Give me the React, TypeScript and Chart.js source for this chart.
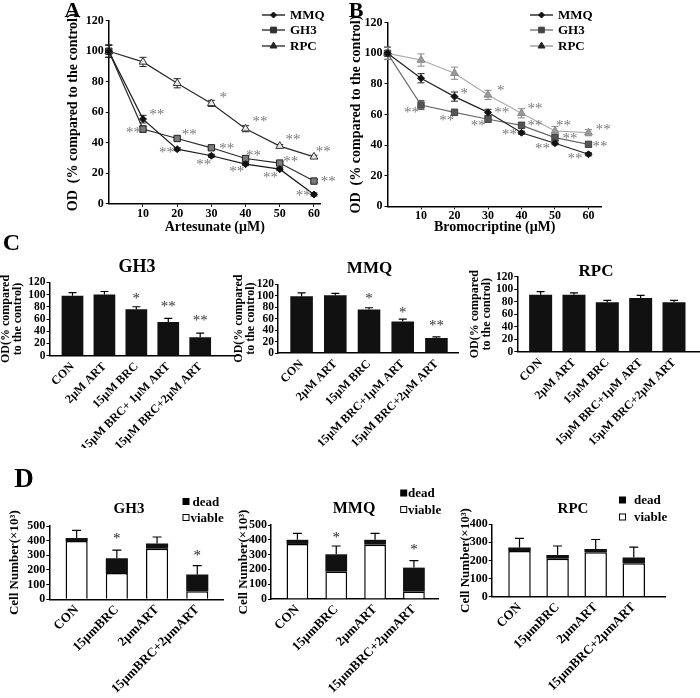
import React, { useEffect, useRef } from 'react';
import { Chart, registerables } from 'chart.js';
import { drawPoint } from 'chart.js/helpers';

Chart.register(...registerables);

const SERIF = "'Liberation Serif', 'Times New Roman', serif";

// ---------------- Panels A & B : dose response ----------------
const DOSES = [0, 10, 20, 30, 40, 50, 60];
const DOSE_TICKS = [10, 20, 30, 40, 50, 60];
const OD_TICKS = [0, 20, 40, 60, 80, 100, 120];

const A_MMQ = [100, 55.5, 35.8, 31.5, 26, 22.7, 6.1];
const A_MMQ_ERR = [4, 2.5, 1, 1, 1, 1, 1];
const A_GH3 = [100, 49, 42.8, 36.7, 29.7, 26.7, 14.9];
const A_GH3_ERR = [4, 2, 1, 1, 1, 1, 1];
const A_RPC = [100, 93, 79, 65.8, 49.2, 37.8, 30.8];
const A_RPC_ERR = [4, 3, 3, 2, 2, 1, 1];

const B_MMQ = [100, 83.7, 71.7, 61.4, 48.1, 41.2, 34];
const B_MMQ_ERR = [4, 3, 3, 2, 1, 1, 1];
const B_GH3 = [100, 66.2, 61.4, 56.9, 52.9, 44.9, 40.5];
const B_GH3_ERR = [4, 3, 2, 2, 2, 2, 1];
const B_RPC = [100, 95.6, 87, 72.8, 60.8, 49.2, 48.1];
const B_RPC_ERR = [4, 4, 4, 3, 3, 3, 2];

type Star = { x: number; y: number; t: string };

const A_STARS: Star[] = [
  { x: 14.0, y: 60.3, t: '**' }, { x: 7.2, y: 48.3, t: '**' }, { x: 23.5, y: 46.6, t: '**' },
  { x: 16.9, y: 34.8, t: '**' }, { x: 33.5, y: 71.3, t: '*' }, { x: 34.5, y: 38, t: '**' },
  { x: 27.8, y: 27.5, t: '**' }, { x: 44.2, y: 55.5, t: '**' }, { x: 42.3, y: 33.4, t: '**' },
  { x: 37.4, y: 22.5, t: '**' }, { x: 53.9, y: 43.5, t: '**' }, { x: 53.2, y: 29, t: '**' },
  { x: 47.3, y: 18.8, t: '**' }, { x: 62.7, y: 35.8, t: '**' }, { x: 64.2, y: 16.2, t: '**' },
  { x: 56.9, y: 6.8, t: '**' },
];
const B_STARS: Star[] = [
  { x: 22.9, y: 75.5, t: '*' }, { x: 33.8, y: 77.1, t: '*' }, { x: 7.2, y: 62.9, t: '**' },
  { x: 17.7, y: 57.5, t: '**' }, { x: 27.1, y: 54.6, t: '**' }, { x: 34.1, y: 62.9, t: '**' },
  { x: 44, y: 65.5, t: '**' }, { x: 36.4, y: 48.1, t: '**' }, { x: 44, y: 54.6, t: '**' },
  { x: 52.5, y: 54.6, t: '**' }, { x: 46.3, y: 39, t: '**' }, { x: 54.5, y: 45.9, t: '**' },
  { x: 56, y: 32.4, t: '**' }, { x: 64.4, y: 51.4, t: '**' }, { x: 63.4, y: 40.5, t: '**' },
];

// ---------------- Panel C : OD bars ----------------
const C_TICKS = [0, 20, 40, 60, 80, 100, 120];
const C_LABELS_GH3 = ['CON', '2µM ART', '15µM BRC', '15µM BRC+ 1µM ART', '15µM BRC+2µM ART'];
const C_LABELS = ['CON', '2µM ART', '15µM BRC', '15µM BRC+1µM ART', '15µM BRC+2µM ART'];
const C_GH3 = [98, 100, 76, 55, 30];
const C_GH3_ERR = [5, 5, 4, 6, 7];
const C_MMQ = [99, 101, 76, 55, 26];
const C_MMQ_ERR = [6, 3, 3, 4, 2];
const C_RPC = [91, 91, 79, 86, 79];
const C_RPC_ERR = [5, 3, 3, 4, 3];
const C_GH3_STARS: Star[] = [{ x: 2, y: 98, t: '*' }, { x: 3, y: 84.5, t: '**' }, { x: 4, y: 62, t: '**' }];
const C_MMQ_STARS: Star[] = [{ x: 2, y: 100, t: '*' }, { x: 3, y: 75, t: '*' }, { x: 4, y: 52, t: '**' }];

// ---------------- Panel D : cell numbers ----------------
const D_LABELS = ['CON', '15µmBRC', '2µmART', '15µmBRC+2µmART'];
const D_TICKS_500 = [0, 100, 200, 300, 400, 500];
const D_TICKS_400 = [0, 100, 200, 300, 400];
const D_GH3_VIABLE = [398, 180, 345, 55];
const D_GH3_DEAD = [20, 100, 35, 115];
const D_GH3_ERR = [52, 55, 45, 60];
const D_MMQ_VIABLE = [372, 185, 367, 50];
const D_MMQ_DEAD = [28, 117, 33, 162];
const D_MMQ_ERR = [44, 56, 44, 47];
const D_RPC_VIABLE = [252, 210, 246, 185];
const D_RPC_DEAD = [20, 20, 18, 32];
const D_RPC_ERR = [50, 50, 52, 57];
const D_GH3_STARS: Star[] = [{ x: 1, y: 427, t: '*' }, { x: 3, y: 314, t: '*' }];
const D_MMQ_STARS: Star[] = [{ x: 1, y: 432, t: '*' }, { x: 3, y: 353, t: '*' }];

// ---------------- helpers ----------------
type Box = { L: number; T: number; W: number; H: number };
type Area = { x0: number; y0: number; x1: number; y1: number };
type ErrSpec = { xs: number[]; base: number[]; err: number[]; both: boolean; cap: number; color: string; width: number };

const fnt = (size: number, weight = 'bold', lineHeight = 1.2) => ({ family: SERIF, size, weight, lineHeight });

function frameOf(box: Box, area: Area, titleCx: number, titleLh: number) {
  const PL = Math.max(0, titleCx - box.L - titleLh / 2);
  return {
    padding: { left: PL, top: area.y0 - box.T, right: box.L + box.W - area.x1, bottom: 0 },
    yWidth: area.x0 - box.L - PL,
    xHeight: box.T + box.H - area.y1,
  };
}

function makeExtras(o: {
  errs: ErrSpec[];
  errAfter: boolean;
  stars: Star[];
  starSize: number;
  starColor: string;
  deco?: (ctx: CanvasRenderingContext2D) => void;
}) {
  const drawErrs = (chart: any) => {
    const { ctx, scales } = chart;
    const x = scales.x, y = scales.y;
    ctx.save();
    for (const e of o.errs) {
      ctx.strokeStyle = e.color;
      ctx.lineWidth = e.width;
      e.xs.forEach((xv, i) => {
        const px = x.getPixelForValue(xv);
        const top = y.getPixelForValue(e.base[i] + e.err[i]);
        const bot = y.getPixelForValue(e.both ? e.base[i] - e.err[i] : e.base[i]);
        ctx.beginPath();
        ctx.moveTo(px, bot);
        ctx.lineTo(px, top);
        ctx.moveTo(px - e.cap / 2, top);
        ctx.lineTo(px + e.cap / 2, top);
        if (e.both) {
          ctx.moveTo(px - e.cap / 2, bot);
          ctx.lineTo(px + e.cap / 2, bot);
        }
        ctx.stroke();
      });
    }
    ctx.restore();
  };
  return {
    id: 'extras',
    beforeDatasetsDraw(chart: any) {
      if (!o.errAfter) drawErrs(chart);
    },
    afterDatasetsDraw(chart: any) {
      if (o.errAfter) drawErrs(chart);
    },
    afterDraw(chart: any) {
      const { ctx, scales } = chart;
      ctx.save();
      ctx.font = `${o.starSize}px ${SERIF}`;
      ctx.fillStyle = o.starColor;
      ctx.textAlign = 'center';
      ctx.textBaseline = 'alphabetic';
      for (const s of o.stars) {
        ctx.fillText(s.t, scales.x.getPixelForValue(s.x), scales.y.getPixelForValue(s.y) + 0.45 * o.starSize);
      }
      ctx.restore();
      if (o.deco) {
        ctx.save();
        o.deco(ctx);
        ctx.restore();
      }
    },
  };
}

type Series = {
  label: string; data: number[]; err: number[]; line: string; style: string; radius: number;
  bg: string; border: string; errColor: string; legBg: string; legBorder: string; legLine: string;
};

function lineConfig(p: {
  box: Box; area: Area; xMax: number; xTitle: string; yTitle: string; titleCx: number;
  series: Series[]; stars: Star[]; starColor: string;
  legend: { x0: number; x1: number; tx: number; ys: number[] };
}) {
  const f = frameOf(p.box, p.area, p.titleCx, 14 * 1.2);
  const deco = (ctx: CanvasRenderingContext2D) => {
    p.series.forEach((s, i) => {
      const y = p.legend.ys[i] - p.box.T;
      const x0 = p.legend.x0 - p.box.L;
      const x1 = p.legend.x1 - p.box.L;
      ctx.strokeStyle = s.legLine;
      ctx.lineWidth = 1.4;
      ctx.beginPath();
      ctx.moveTo(x0, y);
      ctx.lineTo(x1, y);
      ctx.stroke();
      ctx.fillStyle = s.legBg;
      ctx.strokeStyle = s.legBorder;
      ctx.lineWidth = 1;
      drawPoint(ctx, { pointStyle: s.style as any, radius: s.radius - 0.5, borderWidth: 1, rotation: 0 } as any, (x0 + x1) / 2, y);
      ctx.fillStyle = '#000';
      ctx.font = `bold 13px ${SERIF}`;
      ctx.textAlign = 'left';
      ctx.textBaseline = 'middle';
      ctx.fillText(s.label, p.legend.tx - p.box.L, y + 1);
    });
  };
  const axisCommon = {
    grid: { display: true, drawOnChartArea: false, drawTicks: true, tickLength: 3, color: '#000', lineWidth: 1 },
    border: { display: true, color: '#000', width: 1.5 },
  };
  return {
    type: 'line',
    data: {
      datasets: p.series.map((s) => ({
        label: s.label,
        data: DOSES.map((d, i) => ({ x: d, y: s.data[i] })),
        borderColor: s.line,
        borderWidth: 1.2,
        tension: 0,
        clip: false,
        pointStyle: s.style,
        pointRadius: s.radius,
        pointBackgroundColor: s.bg,
        pointBorderColor: s.border,
        pointBorderWidth: 1,
      })),
    },
    options: {
      responsive: false,
      animation: false,
      devicePixelRatio: 1,
      events: [],
      layout: { padding: f.padding },
      plugins: { legend: { display: false }, tooltip: { enabled: false }, title: { display: false } },
      scales: {
        x: {
          type: 'linear', min: 0, max: p.xMax,
          afterBuildTicks: (s: any) => { s.ticks = DOSE_TICKS.map((v) => ({ value: v })); },
          afterFit: (s: any) => { s.height = f.xHeight; },
          ticks: { font: fnt(12, 'bold', 1), color: '#000', padding: 1, maxRotation: 0, autoSkip: false },
          title: { display: true, text: p.xTitle, font: fnt(14), color: '#000', padding: 0 },
          ...axisCommon,
        },
        y: {
          type: 'linear', min: 0, max: 120,
          afterBuildTicks: (s: any) => { s.ticks = OD_TICKS.map((v) => ({ value: v })); },
          afterFit: (s: any) => { s.width = f.yWidth; },
          ticks: { font: fnt(12), color: '#000', padding: 2, autoSkip: false },
          title: { display: true, text: p.yTitle, font: fnt(14), color: '#000', padding: 0 },
          ...axisCommon,
        },
      },
    },
    plugins: [
      makeExtras({
        errs: p.series.map((s) => ({ xs: DOSES, base: s.data, err: s.err, both: true, cap: 7, color: s.errColor, width: 1 })),
        errAfter: false,
        stars: p.stars,
        starSize: 15,
        starColor: p.starColor,
        deco,
      }),
    ],
  };
}

type Stack = { data: number[]; bg: string; border: string; bw: number };
type LegBox = { sx: number; sy: number; filled: boolean; label: string; tx: number; ty: number };

function barConfig(p: {
  box: Box; area: Area; labels: string[]; xMin: number; xMax: number; yTicks: number[];
  yTitle: string | string[]; titleCx: number; titleSize: number; titleLh: number;
  tickSize: number; labelSize: number; labelPad: number; barPct: number;
  stacks: Stack[]; err: number[]; cap: number; stars: Star[]; starColor: string; legend?: LegBox[];
}) {
  const f = frameOf(p.box, p.area, p.titleCx, p.titleLh);
  const idx = p.labels.map((_, i) => i);
  const totals = idx.map((i) => p.stacks.reduce((a, s) => a + s.data[i], 0));
  const stacked = p.stacks.length > 1;
  const deco = p.legend
    ? (ctx: CanvasRenderingContext2D) => {
        const sz = 7;
        for (const it of p.legend!) {
          const sx = it.sx - p.box.L;
          const sy = it.sy - p.box.T;
          if (it.filled) {
            ctx.fillStyle = '#000';
            ctx.fillRect(sx - sz / 2, sy - sz / 2, sz, sz);
          } else {
            ctx.strokeStyle = '#000';
            ctx.lineWidth = 1;
            ctx.strokeRect(sx - sz / 2 + 0.5, sy - sz / 2 + 0.5, sz - 1, sz - 1);
          }
          ctx.fillStyle = '#000';
          ctx.font = `bold 13px ${SERIF}`;
          ctx.textAlign = 'left';
          ctx.textBaseline = 'middle';
          ctx.fillText(it.label, it.tx - p.box.L, it.ty - p.box.T + 1);
        }
      }
    : undefined;
  return {
    type: 'bar',
    data: {
      datasets: p.stacks.map((s) => ({
        data: idx.map((i) => ({ x: i, y: s.data[i] })),
        backgroundColor: s.bg,
        borderColor: s.border,
        borderWidth: s.bw,
        barPercentage: p.barPct,
        categoryPercentage: 1,
      })),
    },
    options: {
      responsive: false,
      animation: false,
      devicePixelRatio: 1,
      events: [],
      layout: { padding: f.padding },
      plugins: { legend: { display: false }, tooltip: { enabled: false }, title: { display: false } },
      scales: {
        x: {
          type: 'linear', min: p.xMin, max: p.xMax, stacked, offset: false,
          afterBuildTicks: (s: any) => { s.ticks = idx.map((v) => ({ value: v })); },
          afterFit: (s: any) => { s.height = f.xHeight; },
          ticks: {
            font: fnt(p.labelSize), color: '#000', padding: p.labelPad, minRotation: 45, maxRotation: 45, autoSkip: false,
            callback: (v: any) => p.labels[Math.round(Number(v))] ?? '',
          },
          grid: { display: true, drawOnChartArea: false, drawTicks: false, color: '#000', offset: false },
          border: { display: true, color: '#000', width: 1.5 },
        },
        y: {
          type: 'linear', min: 0, max: p.yTicks[p.yTicks.length - 1], stacked,
          afterBuildTicks: (s: any) => { s.ticks = p.yTicks.map((v) => ({ value: v })); },
          afterFit: (s: any) => { s.width = f.yWidth; },
          ticks: { font: fnt(p.tickSize), color: '#000', padding: 1, autoSkip: false },
          grid: { display: true, drawOnChartArea: false, drawTicks: true, tickLength: 3, color: '#000' },
          border: { display: true, color: '#000', width: 1.5 },
          title: {
            display: true, text: p.yTitle, color: '#000', padding: 0,
            font: { family: SERIF, size: p.titleSize, weight: 'bold', lineHeight: p.titleLh / p.titleSize },
          },
        },
      },
    },
    plugins: [
      makeExtras({
        errs: [{ xs: idx, base: totals, err: p.err, both: false, cap: p.cap, color: '#000', width: 1.2 }],
        errAfter: true,
        stars: p.stars,
        starSize: 15,
        starColor: p.starColor,
        deco,
      }),
    ],
  };
}

// ---------------- chart definitions ----------------
const BOX_A: Box = { L: 0, T: 0, W: 345, H: 236 };
const BOX_B: Box = { L: 345, T: 0, W: 355, H: 236 };

const CHARTS: { box: Box; make: () => any }[] = [
  {
    box: BOX_A,
    make: () =>
      lineConfig({
        box: BOX_A, area: { x0: 108.8, y0: 20.7, x1: 320.8, y1: 203.8 }, xMax: 62,
        xTitle: 'Artesunate (μM)', yTitle: 'OD  (% compared to the control)', titleCx: 73,
        starColor: '#7a7a7a',
        series: [
          { label: 'MMQ', data: A_MMQ, err: A_MMQ_ERR, line: '#1a1a1a', style: 'rectRot', radius: 3.5, bg: '#111', border: '#111', errColor: '#222', legBg: '#111', legBorder: '#111', legLine: '#222' },
          { label: 'GH3', data: A_GH3, err: A_GH3_ERR, line: '#2a2a2a', style: 'rect', radius: 4.5, bg: '#7a7a7a', border: '#222', errColor: '#222', legBg: '#333', legBorder: '#222', legLine: '#333' },
          { label: 'RPC', data: A_RPC, err: A_RPC_ERR, line: '#2a2a2a', style: 'triangle', radius: 4.5, bg: '#e8e8e8', border: '#333', errColor: '#222', legBg: '#222', legBorder: '#222', legLine: '#333' },
        ],
        stars: A_STARS,
        legend: { x0: 262, x1: 285, tx: 290, ys: [15, 30, 46] },
      }),
  },
  {
    box: BOX_B,
    make: () =>
      lineConfig({
        box: BOX_B, area: { x0: 387.5, y0: 22.7, x1: 601.9, y1: 206.3 }, xMax: 64,
        xTitle: 'Bromocriptine (μM)', yTitle: 'OD  (% compared to the control)', titleCx: 356,
        starColor: '#7a7a7a',
        series: [
          { label: 'MMQ', data: B_MMQ, err: B_MMQ_ERR, line: '#222', style: 'rectRot', radius: 3.5, bg: '#111', border: '#111', errColor: '#222', legBg: '#111', legBorder: '#111', legLine: '#222' },
          { label: 'GH3', data: B_GH3, err: B_GH3_ERR, line: '#6a6a6a', style: 'rect', radius: 4.5, bg: '#555', border: '#444', errColor: '#555', legBg: '#444', legBorder: '#444', legLine: '#777' },
          { label: 'RPC', data: B_RPC, err: B_RPC_ERR, line: '#aaaaaa', style: 'triangle', radius: 4.5, bg: '#9a9a9a', border: '#888', errColor: '#888', legBg: '#222', legBorder: '#222', legLine: '#999' },
        ],
        stars: B_STARS,
        legend: { x0: 530, x1: 553, tx: 558, ys: [15, 30, 46] },
      }),
  },
];

const BOX_CG: Box = { L: 0, T: 258, W: 238, H: 190 };
const BOX_CM: Box = { L: 230, T: 258, W: 235, H: 190 };
const BOX_CR: Box = { L: 462, T: 258, W: 238, H: 190 };
const C_TITLE = ['OD(% compared', 'to the control)'];
const blackBar = (data: number[]): Stack[] => [{ data, bg: '#111', border: '#111', bw: 0 }];

CHARTS.push(
  {
    box: BOX_CG,
    make: () =>
      barConfig({
        box: BOX_CG, area: { x0: 49.5, y0: 282.3, x1: 235, y1: 355.7 }, labels: C_LABELS_GH3,
        xMin: -0.72, xMax: 5.09, yTicks: C_TICKS, yTitle: C_TITLE, titleCx: 6, titleSize: 12, titleLh: 11.5,
        tickSize: 11.5, labelSize: 12, labelPad: 4, barPct: 0.68, stacks: blackBar(C_GH3), err: C_GH3_ERR, cap: 8,
        stars: C_GH3_STARS, starColor: '#333',
      }),
  },
  {
    box: BOX_CM,
    make: () =>
      barConfig({
        box: BOX_CM, area: { x0: 278, y0: 284.3, x1: 458, y1: 353 }, labels: C_LABELS,
        xMin: -0.7, xMax: 4.64, yTicks: C_TICKS, yTitle: C_TITLE, titleCx: 239, titleSize: 12, titleLh: 11.5,
        tickSize: 11.5, labelSize: 12, labelPad: 4, barPct: 0.67, stacks: blackBar(C_MMQ), err: C_MMQ_ERR, cap: 8,
        stars: C_MMQ_STARS, starColor: '#333',
      }),
  },
  {
    box: BOX_CR,
    make: () =>
      barConfig({
        box: BOX_CR, area: { x0: 517.3, y0: 276.7, x1: 699, y1: 351.7 }, labels: C_LABELS,
        xMin: -0.7, xMax: 4.75, yTicks: C_TICKS, yTitle: C_TITLE, titleCx: 475, titleSize: 12, titleLh: 11.5,
        tickSize: 11.5, labelSize: 12, labelPad: 4, barPct: 0.69, stacks: blackBar(C_RPC), err: C_RPC_ERR, cap: 8,
        stars: [], starColor: '#333',
      }),
  },
);

const BOX_DG: Box = { L: 0, T: 485, W: 240, H: 213 };
const BOX_DM: Box = { L: 232, T: 485, W: 230, H: 213 };
const BOX_DR: Box = { L: 455, T: 485, W: 245, H: 213 };
const D_TITLE = 'Cell Number(×10³)';
const cellStacks = (viable: number[], dead: number[]): Stack[] => [
  { data: viable, bg: '#ffffff', border: '#000', bw: 1.5 },
  { data: dead, bg: '#111', border: '#111', bw: 0 },
];
const legendAt = (sx: number, tx: number, yDead: number, yViable: number, gap: boolean): LegBox[] => [
  { sx, sy: yDead, filled: true, label: 'dead', tx: tx + (gap ? 2 : 0), ty: yDead },
  { sx, sy: yViable, filled: false, label: 'viable', tx, ty: yViable },
];

CHARTS.push(
  {
    box: BOX_DG,
    make: () =>
      barConfig({
        box: BOX_DG, area: { x0: 49.3, y0: 526, x1: 223, y1: 599.3 }, labels: D_LABELS,
        xMin: -0.68, xMax: 3.64, yTicks: D_TICKS_500, yTitle: D_TITLE, titleCx: 15, titleSize: 13, titleLh: 15.6,
        tickSize: 12, labelSize: 13, labelPad: 3, barPct: 0.55, stacks: cellStacks(D_GH3_VIABLE, D_GH3_DEAD), err: D_GH3_ERR, cap: 9,
        stars: D_GH3_STARS, starColor: '#222', legend: legendAt(186, 190.5, 501.5, 517.5, true),
      }),
  },
  {
    box: BOX_DM,
    make: () =>
      barConfig({
        box: BOX_DM, area: { x0: 271, y0: 525, x1: 438, y1: 599 }, labels: D_LABELS,
        xMin: -0.68, xMax: 3.62, yTicks: D_TICKS_500, yTitle: D_TITLE, titleCx: 244, titleSize: 13, titleLh: 15.6,
        tickSize: 12, labelSize: 13, labelPad: 3, barPct: 0.56, stacks: cellStacks(D_MMQ_VIABLE, D_MMQ_DEAD), err: D_MMQ_ERR, cap: 9,
        stars: D_MMQ_STARS, starColor: '#222', legend: legendAt(403.7, 408, 493, 509.5, false),
      }),
  },
  {
    box: BOX_DR,
    make: () =>
      barConfig({
        box: BOX_DR, area: { x0: 491.7, y0: 524.3, x1: 665, y1: 596.7 }, labels: D_LABELS,
        xMin: -0.73, xMax: 3.82, yTicks: D_TICKS_400, yTitle: D_TITLE, titleCx: 466, titleSize: 13, titleLh: 15.6,
        tickSize: 12, labelSize: 13, labelPad: 3, barPct: 0.59, stacks: cellStacks(D_RPC_VIABLE, D_RPC_DEAD), err: D_RPC_ERR, cap: 9,
        stars: [], starColor: '#222', legend: legendAt(622.5, 634, 500, 517, false),
      }),
  },
);

// ---------------- HTML text (panel letters and sub-titles) ----------------
const TEXTS: { t: string; x: number; y: number; size: number }[] = [
  { t: 'A', x: 72.5, y: 10, size: 22 },
  { t: 'B', x: 356, y: 9.5, size: 22 },
  { t: 'C', x: 11.5, y: 241.5, size: 24 },
  { t: 'D', x: 24, y: 477.5, size: 27 },
  { t: 'GH3', x: 137, y: 266, size: 18 },
  { t: 'MMQ', x: 369.5, y: 266.5, size: 17 },
  { t: 'RPC', x: 596, y: 270, size: 17 },
  { t: 'GH3', x: 129, y: 508, size: 15 },
  { t: 'MMQ', x: 354, y: 508, size: 16 },
  { t: 'RPC', x: 573, y: 508, size: 15 },
];

function ChartCanvas({ box, make }: { box: Box; make: () => any }) {
  const ref = useRef<HTMLCanvasElement>(null);
  useEffect(() => {
    const chart = new Chart(ref.current as HTMLCanvasElement, make());
    return () => chart.destroy();
  }, []);
  return (
    <canvas
      ref={ref}
      width={box.W}
      height={box.H}
      style={{ position: 'absolute', left: box.L, top: box.T, width: box.W, height: box.H }}
    />
  );
}

export default function App() {
  return (
    <div style={{ position: 'absolute', left: 0, top: 0, width: 700, height: 698, background: '#fff', overflow: 'hidden' }}>
      {CHARTS.map((c, i) => (
        <ChartCanvas key={i} box={c.box} make={c.make} />
      ))}
      {TEXTS.map((t, i) => (
        <div
          key={'t' + i}
          style={{
            position: 'absolute', left: t.x, top: t.y, transform: 'translate(-50%, -50%)',
            font: `bold ${t.size}px ${SERIF}`, lineHeight: 1, whiteSpace: 'nowrap', color: '#000',
          }}
        >
          {t.t}
        </div>
      ))}
    </div>
  );
}
